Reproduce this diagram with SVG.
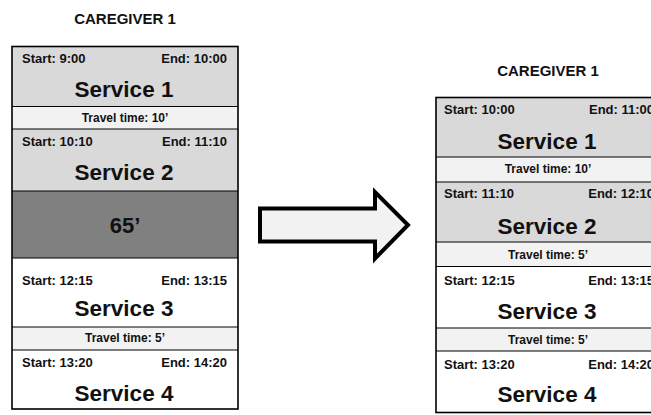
<svg xmlns="http://www.w3.org/2000/svg" width="651" height="415" viewBox="0 0 651 415">
  <style>
    text { font-family: "Liberation Sans", Arial, sans-serif; font-weight: bold; fill: #111; }
    .title { font-size: 15px; text-anchor: middle; }
    .time { font-size: 13px; }
    .end { text-anchor: end; }
    .svc { font-size: 22.5px; text-anchor: middle; }
    .trv { font-size: 12px; text-anchor: middle; }
    .gap { font-size: 22px; text-anchor: middle; }
    .busy { fill: #d9d9d9; }
    .travel { fill: #f2f2f2; }
    .idle { fill: #808080; }
    .free { fill: #ffffff; }
    .sep { stroke: #000; stroke-width: 1; }
    .frame { fill: none; stroke: #000; stroke-width: 1.6; }
  </style>

  <!-- Schedule before: caregiver 1 -->
  <g id="schedule-before">
    <text class="title" x="125" y="24">CAREGIVER 1</text>

    <g id="before-service-1">
      <rect class="busy" x="12" y="46.5" width="226" height="60"/>
      <text class="time" x="22" y="63">Start: 9:00</text>
      <text class="time end" x="227" y="63">End: 10:00</text>
      <text class="svc" x="124" y="97">Service 1</text>
    </g>
    <g id="before-travel-1">
      <rect class="travel" x="12" y="106.5" width="226" height="22.5"/>
      <text class="trv" x="125" y="122">Travel time: 10’</text>
    </g>
    <g id="before-service-2">
      <rect class="busy" x="12" y="129" width="226" height="62"/>
      <text class="time" x="22" y="146">Start: 10:10</text>
      <text class="time end" x="227" y="146">End: 11:10</text>
      <text class="svc" x="124" y="180">Service 2</text>
    </g>
    <g id="before-idle">
      <rect class="idle" x="12" y="191" width="226" height="67"/>
      <text class="gap" x="125" y="233">65’</text>
    </g>
    <g id="before-service-3">
      <rect class="free" x="12" y="258" width="226" height="69"/>
      <text class="time" x="22" y="285">Start: 12:15</text>
      <text class="time end" x="227" y="285">End: 13:15</text>
      <text class="svc" x="124" y="316">Service 3</text>
    </g>
    <g id="before-travel-2">
      <rect class="travel" x="12" y="327" width="226" height="23"/>
      <text class="trv" x="125" y="342">Travel time: 5’</text>
    </g>
    <g id="before-service-4">
      <rect class="free" x="12" y="350" width="226" height="59"/>
      <text class="time" x="22" y="367">Start: 13:20</text>
      <text class="time end" x="227" y="367">End: 14:20</text>
      <text class="svc" x="124" y="401">Service 4</text>
    </g>

    <g class="sep">
      <line x1="12" y1="106.5" x2="238" y2="106.5"/>
      <line x1="12" y1="129" x2="238" y2="129"/>
      <line x1="12" y1="191" x2="238" y2="191"/>
      <line x1="12" y1="258" x2="238" y2="258"/>
      <line x1="12" y1="327" x2="238" y2="327"/>
      <line x1="12" y1="350" x2="238" y2="350"/>
    </g>
    <rect class="frame" x="12" y="46.5" width="226" height="362.5"/>
  </g>

  <!-- Schedule after: caregiver 1 (runs past the right edge) -->
  <g id="schedule-after">
    <text class="title" x="548" y="76">CAREGIVER 1</text>

    <g id="after-service-1">
      <rect class="busy" x="436" y="97.5" width="226" height="59.5"/>
      <text class="time" x="444" y="114">Start: 10:00</text>
      <text class="time end" x="654" y="114">End: 11:00</text>
      <text class="svc" x="547" y="149">Service 1</text>
    </g>
    <g id="after-travel-1">
      <rect class="travel" x="436" y="157" width="226" height="25"/>
      <text class="trv" x="548" y="173">Travel time: 10’</text>
    </g>
    <g id="after-service-2">
      <rect class="busy" x="436" y="182" width="226" height="60"/>
      <text class="time" x="444" y="198">Start: 11:10</text>
      <text class="time end" x="654" y="198">End: 12:10</text>
      <text class="svc" x="547" y="234">Service 2</text>
    </g>
    <g id="after-travel-2">
      <rect class="travel" x="436" y="242" width="226" height="24.5"/>
      <text class="trv" x="548" y="259">Travel time: 5’</text>
    </g>
    <g id="after-service-3">
      <rect class="free" x="436" y="266.5" width="226" height="61.5"/>
      <text class="time" x="444" y="285">Start: 12:15</text>
      <text class="time end" x="654" y="285">End: 13:15</text>
      <text class="svc" x="547" y="319">Service 3</text>
    </g>
    <g id="after-travel-3">
      <rect class="travel" x="436" y="328" width="226" height="23"/>
      <text class="trv" x="548" y="344">Travel time: 5’</text>
    </g>
    <g id="after-service-4">
      <rect class="free" x="436" y="351" width="226" height="61.5"/>
      <text class="time" x="444" y="369">Start: 13:20</text>
      <text class="time end" x="654" y="369">End: 14:20</text>
      <text class="svc" x="547" y="402">Service 4</text>
    </g>

    <g class="sep">
      <line x1="436" y1="157" x2="662" y2="157"/>
      <line x1="436" y1="182" x2="662" y2="182"/>
      <line x1="436" y1="242" x2="662" y2="242"/>
      <line x1="436" y1="266.5" x2="662" y2="266.5"/>
      <line x1="436" y1="328" x2="662" y2="328"/>
      <line x1="436" y1="351" x2="662" y2="351"/>
    </g>
    <rect class="frame" x="436" y="97.5" width="226" height="315"/>
  </g>

  <!-- Block arrow linking the two schedules -->
  <g id="connectors">
    <polygon points="260,208.5 375,208.5 375,192 408,225 375,258.5 375,241.5 260,241.5"
             fill="#f2f2f2" stroke="#000" stroke-width="4" stroke-linejoin="miter"/>
  </g>
</svg>
